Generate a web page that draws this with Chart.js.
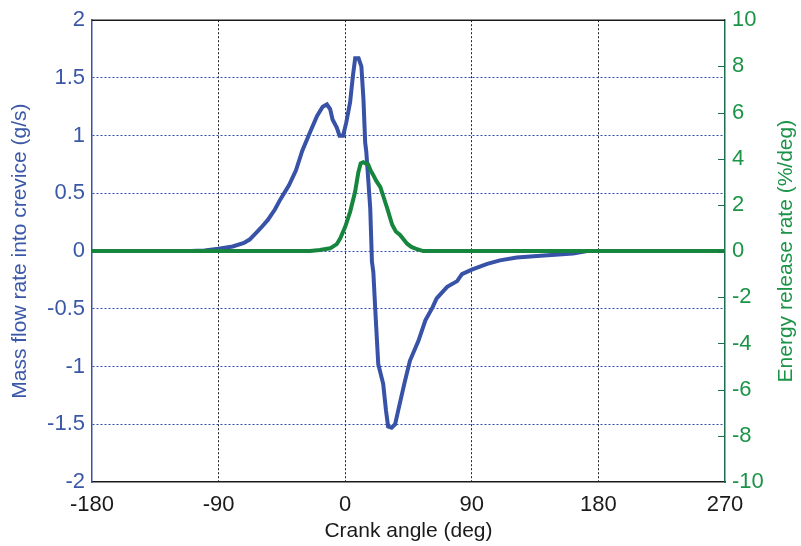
<!DOCTYPE html>
<html><head><meta charset="utf-8">
<script src="https://cdn.jsdelivr.net/npm/chart.js@4"></script>
<style>html,body{margin:0;padding:0;background:#fff}</style>
</head><body>
<canvas id="c" width="801" height="546"></canvas>
<script>
// ---- data ----
const massAngles = [-180,-110,-100,-90,-80,-72,-68,-64,-60,-55,-50,-46,-40,-35,-30.5,-25,-20,-16,-13,-10.7,-9,-6,-4,-1.5,0.7,3.5,5.5,7.1,9.5,11.5,13,14.2,15,17.8,19,20,21.3,23.5,27,29,30.5,33,35.5,37.7,42,46,52,57,62,65,72.5,79.6,83,90,101,110,122,139,162,172,270];
const massFlow   = [0,0,0.005,0.02,0.04,0.07,0.1,0.15,0.2,0.27,0.36,0.45,0.57,0.7,0.87,1.03,1.17,1.25,1.27,1.23,1.14,1.07,1.0,1.0,1.11,1.29,1.52,1.67,1.67,1.6,1.31,0.94,0.86,0.37,-0.09,-0.18,-0.49,-0.98,-1.15,-1.38,-1.52,-1.53,-1.5,-1.38,-1.15,-0.95,-0.78,-0.6,-0.49,-0.41,-0.31,-0.26,-0.2,-0.16,-0.11,-0.08,-0.056,-0.04,-0.02,0,0];
const energyAngles = [-180,-25,-18,-10.7,-6,-3.5,0,3.5,7,9.3,11,12.8,14.5,16.3,18,20,22,25,27.5,30,33.4,36,39,44,47,50,55.4,270];
const energyRate   = [0,0,0.05,0.12,0.3,0.55,1.05,1.7,2.56,3.4,3.8,3.85,3.8,3.76,3.5,3.29,3.05,2.77,2.3,1.83,1.14,0.85,0.7,0.32,0.18,0.11,0,0];
const xTickValues = [-180,-90,0,90,180,270];
const xTickLabels = ['-180','-90','0','90','180','270'];
const leftTickValues = [2,1.5,1,0.5,0,-0.5,-1,-1.5,-2];
const leftTickLabels = ['2','1.5','1','0.5','0','-0.5','-1','-1.5','-2'];
const rightTickValues = [10,8,6,4,2,0,-2,-4,-6,-8,-10];
const rightTickLabels = ['10','8','6','4','2','0','-2','-4','-6','-8','-10'];
const xTitle = 'Crank angle (deg)';
const leftTitle = 'Mass flow rate into crevice (g/s)';
const rightTitle = 'Energy release rate (%/deg)';

const BLUE = '#3752a6';
const BLUE_TXT = '#3b58a8';
const GREEN = '#16863f';
const GREEN_TXT = '#1c9448';
const GREEN_AXIS = '#1b6e4e';
const FONT = 'Liberation Sans, Arial, sans-serif';

const pairs = (xs, ys) => xs.map((x, i) => ({x, y: ys[i]}));
const setTicks = vals => s => { s.ticks = vals.map(v => ({value: v})); };
const labelFrom = (vals, labels) => v => { const i = vals.indexOf(v); return i >= 0 ? labels[i] : ''; };

const extras = {
  id: 'extras',
  afterDraw(chart) {
    const {ctx, chartArea: a} = chart;
    const y2 = chart.scales.y2;
    ctx.save();
    // top frame line
    ctx.strokeStyle = '#1a1a1a'; ctx.lineWidth = 1.5;
    ctx.beginPath(); ctx.moveTo(a.left, a.top); ctx.lineTo(a.right, a.top); ctx.stroke();
    // inward tick marks on the right axis
    ctx.strokeStyle = GREEN_AXIS; ctx.lineWidth = 1;
    rightTickValues.forEach(v => {
      if (v === 10 || v === -10) return;
      const py = Math.round(y2.getPixelForValue(v)) + 0.5;
      ctx.beginPath(); ctx.moveTo(a.right - 7, py); ctx.lineTo(a.right, py); ctx.stroke();
    });
    // right title (reads bottom to top)
    ctx.fillStyle = GREEN_TXT;
    ctx.font = '21px ' + FONT;
    ctx.textAlign = 'center'; ctx.textBaseline = 'middle';
    ctx.translate(786, (a.top + a.bottom) / 2);
    ctx.rotate(-Math.PI / 2);
    ctx.fillText(rightTitle, 0, 0);
    ctx.restore();
  }
};

new Chart(document.getElementById('c'), {
  type: 'line',
  data: {
    datasets: [
      {label: 'mass', data: pairs(massAngles, massFlow), yAxisID: 'y', borderColor: BLUE, borderWidth: 4, pointRadius: 0, tension: 0, fill: false, order: 2},
      {label: 'energy', data: pairs(energyAngles, energyRate), yAxisID: 'y2', borderColor: GREEN, borderWidth: 4, pointRadius: 0, tension: 0, fill: false, order: 1}
    ]
  },
  options: {
    responsive: false, animation: false,
    layout: {padding: {top: 17, left: 0, right: 0, bottom: 0}, autoPadding: false},
    plugins: {legend: {display: false}, tooltip: {enabled: false}},
    scales: {
      x: {
        type: 'linear', position: 'bottom', min: -180, max: 270,
        afterBuildTicks: setTicks(xTickValues),
        afterFit: s => { s.height = 64; },
        ticks: {callback: labelFrom(xTickValues, xTickLabels), color: '#1a1a1a', font: {family: FONT, size: 22}, padding: 10, maxRotation: 0, autoSkip: false},
        grid: {drawTicks: false, lineWidth: 1, color: c => (c.tick && (c.tick.value === -180 || c.tick.value === 270)) ? 'rgba(0,0,0,0)' : '#222'},
        border: {color: '#1a1a1a', width: 1.5, dash: [2, 2]},
        title: {display: true, text: xTitle, color: '#1a1a1a', font: {family: FONT, size: 21}, padding: {top: 0, bottom: 2}}
      },
      y: {
        type: 'linear', position: 'left', min: -2, max: 2,
        afterBuildTicks: setTicks(leftTickValues),
        afterFit: s => { s.width = 92; },
        ticks: {callback: labelFrom(leftTickValues, leftTickLabels), color: BLUE_TXT, font: {family: FONT, size: 22}, padding: 7, autoSkip: false},
        grid: {drawTicks: false, lineWidth: 1, color: c => (c.tick && (c.tick.value === 2 || c.tick.value === -2)) ? 'rgba(0,0,0,0)' : '#2f4fb0'},
        border: {color: BLUE, width: 1.5, dash: [2, 2]},
        title: {display: true, text: leftTitle, color: BLUE_TXT, font: {family: FONT, size: 21}, padding: {top: 8, bottom: 0}}
      },
      y2: {
        type: 'linear', position: 'right', min: -10, max: 10,
        afterBuildTicks: setTicks(rightTickValues),
        afterFit: s => { s.width = 76; },
        ticks: {callback: labelFrom(rightTickValues, rightTickLabels), color: GREEN_TXT, font: {family: FONT, size: 22}, padding: 7, autoSkip: false},
        grid: {drawTicks: false, drawOnChartArea: false},
        border: {color: GREEN_AXIS, width: 1.5}
      }
    }
  },
  plugins: [extras]
});
</script>
</body></html>
